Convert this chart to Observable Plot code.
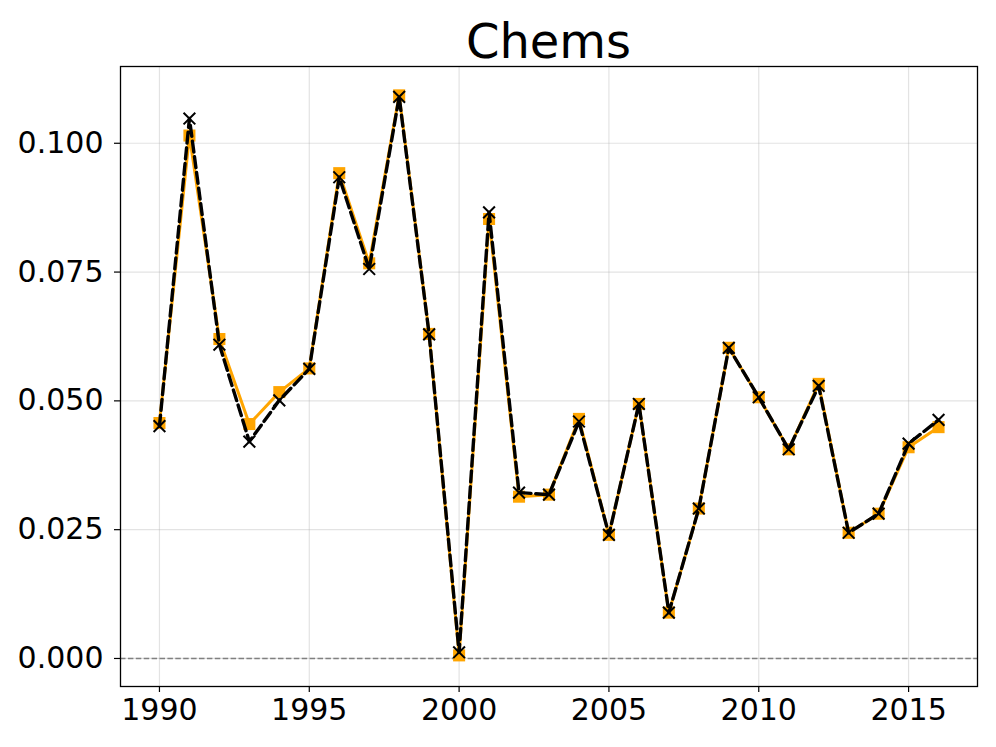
<!DOCTYPE html>
<html>
<head>
<meta charset="utf-8">
<script src="https://cdn.jsdelivr.net/npm/d3@7"></script>
<script src="https://cdn.jsdelivr.net/npm/@observablehq/plot@0.6"></script>
<style>
  html, body { margin: 0; padding: 0; background: #fff; }
  #wrap { width: 996px; height: 747px; overflow: hidden; font-family: "DejaVu Sans", sans-serif; }
  #title { box-sizing: border-box; height: 60px; padding: 17px 19px 0 120px; line-height: 48px; font-size: 48px; text-align: center; color: #000; white-space: nowrap; }
</style>
</head>
<body>
<div id="wrap">
  <div id="title">Chems</div>
  <div id="chart"></div>
</div>
<script>
const title = "Chems";
const years = [1990,1991,1992,1993,1994,1995,1996,1997,1998,1999,2000,2001,2002,2003,2004,2005,2006,2007,2008,2009,2010,2011,2012,2013,2014,2015,2016];
const orangeValues = [0.0457,0.1015,0.0620,0.0455,0.0517,0.0563,0.0942,0.0767,0.1093,0.0630,0.0006,0.0853,0.0314,0.0318,0.0465,0.0240,0.0494,0.0089,0.0291,0.0603,0.0507,0.0406,0.0533,0.0244,0.0281,0.0410,0.0449];
const blackValues  = [0.0451,0.1048,0.0609,0.0421,0.0501,0.0562,0.0934,0.0756,0.1090,0.0629,0.0012,0.0866,0.0322,0.0318,0.0460,0.0240,0.0494,0.0089,0.0291,0.0603,0.0507,0.0406,0.0529,0.0244,0.0281,0.0417,0.0463];
const xTicks = [1990,1995,2000,2005,2010,2015];
const yTicks = [0.000,0.025,0.050,0.075,0.100];

document.getElementById("title").textContent = title;

const orange = years.map((y, i) => ({year: y, value: orangeValues[i]}));
const black = years.map((y, i) => ({year: y, value: blackValues[i]}));

const chart = Plot.plot({
  width: 996,
  height: 687,
  marginTop: 6,
  marginBottom: 61,
  marginLeft: 120,
  marginRight: 19,
  style: {fontFamily: "DejaVu Sans, sans-serif", fontSize: "30px", color: "#000", background: "#fff"},
  x: {domain: [1988.7, 2017.3], label: null},
  y: {domain: [-0.00544, 0.1149], label: null},
  marks: [
    Plot.gridX(xTicks, {stroke: "#b0b0b0", strokeOpacity: 0.35, strokeWidth: 1.2}),
    Plot.gridY(yTicks, {stroke: "#b0b0b0", strokeOpacity: 0.35, strokeWidth: 1.2}),
    Plot.ruleY([0], {stroke: "#808080", strokeWidth: 1.5, strokeDasharray: "5.5,2.4"}),
    Plot.line(orange, {x: "year", y: "value", stroke: "#FFA500", strokeWidth: 3}),
    Plot.dot(orange, {x: "year", y: "value", symbol: "square", r: 6.8, fill: "#FFA500", stroke: "none"}),
    Plot.line(black, {x: "year", y: "value", stroke: "#000", strokeWidth: 3.4, strokeDasharray: "11,4.8"}),
    Plot.dot(black, {x: "year", y: "value", symbol: "times", r: 5.4, stroke: "#000", strokeWidth: 2}),
    Plot.axisX(xTicks, {tickSize: 6, tickPadding: 6, tickFormat: "d", fontSize: 30, strokeWidth: 1.2}),
    Plot.axisY(yTicks, {tickSize: 6, tickPadding: 11, tickFormat: d3.format(".3f"), fontSize: 30, strokeWidth: 1.2}),
    Plot.frame({stroke: "#000", strokeWidth: 1.3})
  ]
});
document.getElementById("chart").appendChild(chart);
</script>
</body>
</html>
